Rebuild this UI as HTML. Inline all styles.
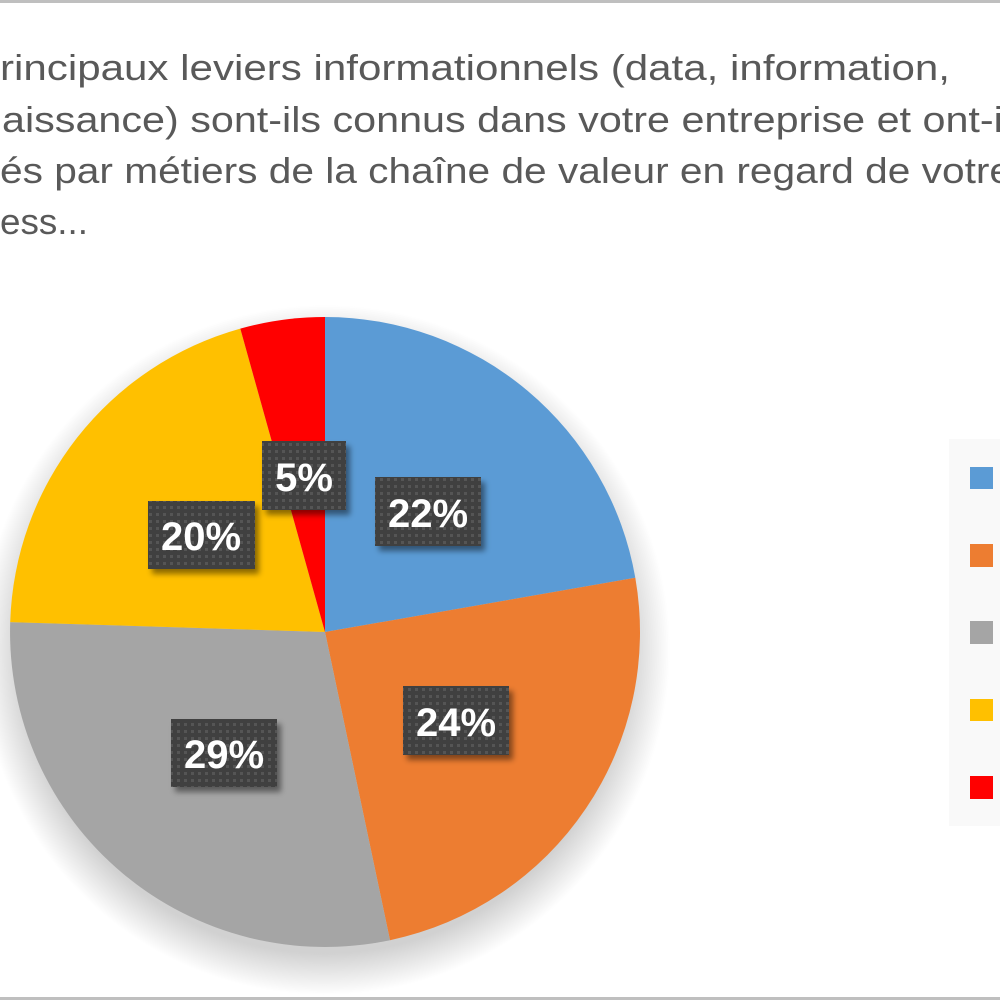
<!DOCTYPE html>
<html><head><meta charset="utf-8"><style>
html,body{margin:0;padding:0;background:#fff;}
body{width:1000px;height:1000px;overflow:hidden;position:relative;}
</style></head><body>
<svg width="1000" height="1000" viewBox="0 0 1000 1000" xmlns="http://www.w3.org/2000/svg">
<defs>
<radialGradient id="sh" cx="325" cy="650" r="345" gradientUnits="userSpaceOnUse">
<stop offset="0.88" stop-color="#000" stop-opacity="0.18"/>
<stop offset="1" stop-color="#000" stop-opacity="0"/>
</radialGradient>
<pattern id="dots" width="7" height="7" patternUnits="userSpaceOnUse">
<rect width="7" height="7" fill="#404040"/>
<rect x="2" y="2" width="3" height="3" fill="#555"/>
</pattern>
<filter id="bs" x="-20%" y="-20%" width="150%" height="150%">
<feDropShadow dx="4" dy="5" stdDeviation="3" flood-color="#000" flood-opacity="0.45"/>
</filter>
</defs>
<rect x="0" y="0" width="1000" height="3" fill="#bfbfbf"/>
<rect x="0" y="997" width="1000" height="3" fill="#bfbfbf"/>
<g font-family="'Liberation Sans', 'DejaVu Sans', sans-serif" font-size="36" fill="#595959">
<text x="0" y="80" textLength="950" lengthAdjust="spacingAndGlyphs">rincipaux leviers informationnels (data, information,</text>
<text x="2" y="132" textLength="1010" lengthAdjust="spacingAndGlyphs">aissance) sont-ils connus dans votre entreprise et ont-il</text>
<text x="0" y="183" textLength="1012" lengthAdjust="spacingAndGlyphs">és par métiers de la chaîne de valeur en regard de votre</text>
<text x="0" y="234" textLength="88" lengthAdjust="spacingAndGlyphs">ess...</text>
</g>
<circle cx="325" cy="650" r="345" fill="url(#sh)"/>
<path d="M325,632 L325,317 A315,315 0 0 1 635.3,577.8 Z" fill="#5b9bd5"/>
<path d="M325,632 L635.3,577.8 A315,315 0 0 1 390,940.2 Z" fill="#ed7d31"/>
<path d="M325,632 L390,940.2 A315,315 0 0 1 10.2,622.1 Z" fill="#a5a5a5"/>
<path d="M325,632 L10.2,622.1 A315,315 0 0 1 240.3,328.6 Z" fill="#ffc000"/>
<path d="M325,632 L240.3,328.6 A315,315 0 0 1 325,317 Z" fill="#ff0000"/>
<g font-family="'Liberation Sans', 'DejaVu Sans', sans-serif" font-weight="bold" font-size="40" fill="#fff" text-anchor="middle">
<rect x="375" y="477" width="106" height="69" fill="url(#dots)" filter="url(#bs)"/>
<text x="428" y="527">22%</text>
<rect x="403" y="686" width="106" height="69" fill="url(#dots)" filter="url(#bs)"/>
<text x="456" y="736">24%</text>
<rect x="171" y="719" width="106" height="68" fill="url(#dots)" filter="url(#bs)"/>
<text x="224" y="768">29%</text>
<rect x="148" y="501" width="107" height="68" fill="url(#dots)" filter="url(#bs)"/>
<text x="201" y="550">20%</text>
<rect x="262" y="441" width="84" height="69" fill="url(#dots)" filter="url(#bs)"/>
<text x="304" y="491">5%</text>
</g>
<rect x="949" y="439" width="51" height="387" fill="#f9f9f9"/>
<rect x="970" y="467" width="23" height="22" fill="#5b9bd5"/>
<rect x="970" y="544" width="23" height="23" fill="#ed7d31"/>
<rect x="970" y="621" width="23" height="23" fill="#a5a5a5"/>
<rect x="970" y="699" width="23" height="22" fill="#ffc000"/>
<rect x="970" y="776" width="23" height="23" fill="#ff0000"/>
</svg>
</body></html>
